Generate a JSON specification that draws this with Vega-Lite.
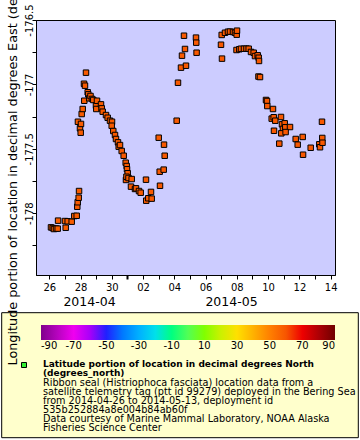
{
  "$schema": "https://vega.github.io/schema/vega-lite/v6.json",
  "width": 299,
  "height": 255,
  "autosize": "none",
  "padding": {"left": 36, "top": 20, "right": 25, "bottom": 165},
  "background": "white",
  "config": {
    "font": "DejaVu Sans",
    "view": {"fill": "#ccccff", "stroke": "black", "strokeWidth": 1},
    "axis": {"labelColor": "black", "tickColor": "black", "domainColor": "black", "titleColor": "black", "grid": false, "labelFont": "DejaVu Sans", "titleFont": "DejaVu Sans"},
    "legend": {"labelFont": "DejaVu Sans", "labelColor": "black"}
  },
  "title": {
    "text": ["Latitude portion of location in decimal degrees North", "(degrees_north)"],
    "subtitle": ["Ribbon seal (Histriophoca fasciata) location data from a", "satellite telemetry tag (ptt id 99279) deployed in the Bering Sea", "from 2014-04-26 to 2014-05-13, deployment id", "535b252884a8e004b84ab60f", "Data courtesy of Marine Mammal Laboratory, NOAA Alaska", "Fisheries Science Center"],
    "orient": "bottom",
    "anchor": "start",
    "frame": "group",
    "dx": 7,
    "offset": -81,
    "font": "DejaVu Sans",
    "fontSize": 9,
    "fontWeight": "bold",
    "lineHeight": 9,
    "color": "black",
    "subtitleFont": "DejaVu Sans",
    "subtitleFontSize": 9.7,
    "subtitleFontWeight": "normal",
    "subtitleLineHeight": 9,
    "subtitlePadding": 0,
    "subtitleColor": "black",
    "zindex": 2
  },
  "data": {
    "values": [
      {"t": "2014-04-26T02:37:00Z", "lon": -178.110, "lat": 58.6},
      {"t": "2014-04-26T05:13:00Z", "lon": -178.115, "lat": 58.6},
      {"t": "2014-04-26T07:13:00Z", "lon": -178.123, "lat": 58.6},
      {"t": "2014-04-26T10:17:00Z", "lon": -178.119, "lat": 58.6},
      {"t": "2014-04-26T12:54:00Z", "lon": -178.120, "lat": 58.6},
      {"t": "2014-04-26T13:30:00Z", "lon": -178.058, "lat": 58.7},
      {"t": "2014-04-27T00:06:00Z", "lon": -178.061, "lat": 58.7},
      {"t": "2014-04-27T01:11:00Z", "lon": -178.113, "lat": 58.7},
      {"t": "2014-04-27T04:15:00Z", "lon": -178.063, "lat": 58.7},
      {"t": "2014-04-27T10:24:00Z", "lon": -178.066, "lat": 58.7},
      {"t": "2014-04-27T14:23:00Z", "lon": -178.022, "lat": 58.8},
      {"t": "2014-04-27T18:04:00Z", "lon": -178.020, "lat": 58.8},
      {"t": "2014-04-27T18:59:00Z", "lon": -177.950, "lat": 58.8},
      {"t": "2014-04-27T19:37:00Z", "lon": -177.915, "lat": 58.8},
      {"t": "2014-04-27T21:08:00Z", "lon": -177.880, "lat": 58.8},
      {"t": "2014-04-27T21:40:00Z", "lon": -177.828, "lat": 58.8},
      {"t": "2014-04-27T20:00:00Z", "lon": -177.290, "lat": 58.9},
      {"t": "2014-04-27T23:08:00Z", "lon": -177.341, "lat": 58.9},
      {"t": "2014-04-28T00:13:00Z", "lon": -177.375, "lat": 58.9},
      {"t": "2014-04-28T00:40:00Z", "lon": -177.307, "lat": 58.9},
      {"t": "2014-04-28T01:45:00Z", "lon": -177.230, "lat": 58.9},
      {"t": "2014-04-28T03:17:00Z", "lon": -177.191, "lat": 58.9},
      {"t": "2014-04-28T05:17:00Z", "lon": -176.995, "lat": 59.0},
      {"t": "2014-04-28T05:44:00Z", "lon": -177.127, "lat": 59.0},
      {"t": "2014-04-28T06:49:00Z", "lon": -177.010, "lat": 59.0},
      {"t": "2014-04-28T08:21:00Z", "lon": -176.909, "lat": 59.0},
      {"t": "2014-04-28T10:58:00Z", "lon": -177.061, "lat": 59.0},
      {"t": "2014-04-28T11:53:00Z", "lon": -177.077, "lat": 59.0},
      {"t": "2014-04-28T13:25:00Z", "lon": -177.108, "lat": 59.0},
      {"t": "2014-04-28T15:16:00Z", "lon": -177.090, "lat": 59.0},
      {"t": "2014-04-28T17:34:00Z", "lon": -177.113, "lat": 59.0},
      {"t": "2014-04-28T19:34:00Z", "lon": -177.121, "lat": 59.0},
      {"t": "2014-04-28T23:43:00Z", "lon": -177.165, "lat": 59.1},
      {"t": "2014-04-29T00:10:00Z", "lon": -177.191, "lat": 59.1},
      {"t": "2014-04-29T01:15:00Z", "lon": -177.127, "lat": 59.1},
      {"t": "2014-04-29T07:23:00Z", "lon": -177.155, "lat": 59.1},
      {"t": "2014-04-29T08:28:00Z", "lon": -177.186, "lat": 59.1},
      {"t": "2014-04-29T10:00:00Z", "lon": -177.212, "lat": 59.1},
      {"t": "2014-04-29T15:04:00Z", "lon": -177.238, "lat": 59.1},
      {"t": "2014-04-29T17:40:00Z", "lon": -177.259, "lat": 59.1},
      {"t": "2014-04-29T21:12:00Z", "lon": -177.282, "lat": 59.1},
      {"t": "2014-04-30T00:17:00Z", "lon": -177.290, "lat": 59.1},
      {"t": "2014-04-29T23:49:00Z", "lon": -177.321, "lat": 59.1},
      {"t": "2014-04-30T02:16:00Z", "lon": -177.362, "lat": 59.1},
      {"t": "2014-04-30T04:53:00Z", "lon": -177.393, "lat": 59.1},
      {"t": "2014-04-30T06:25:00Z", "lon": -177.424, "lat": 59.1},
      {"t": "2014-04-30T09:29:00Z", "lon": -177.450, "lat": 59.1},
      {"t": "2014-04-30T10:34:00Z", "lon": -177.484, "lat": 59.1},
      {"t": "2014-04-30T12:34:00Z", "lon": -177.471, "lat": 59.1},
      {"t": "2014-04-30T15:10:00Z", "lon": -177.517, "lat": 59.1},
      {"t": "2014-04-30T18:14:00Z", "lon": -177.554, "lat": 59.1},
      {"t": "2014-04-30T21:19:00Z", "lon": -177.608, "lat": 59.1},
      {"t": "2014-04-30T22:51:00Z", "lon": -177.634, "lat": 59.1},
      {"t": "2014-04-30T23:20:00Z", "lon": -177.659, "lat": 59.1},
      {"t": "2014-05-01T00:23:00Z", "lon": -177.690, "lat": 59.1},
      {"t": "2014-04-30T21:46:00Z", "lon": -177.742, "lat": 59.1},
      {"t": "2014-04-30T22:30:00Z", "lon": -177.717, "lat": 59.1},
      {"t": "2014-05-01T01:36:00Z", "lon": -177.727, "lat": 59.1},
      {"t": "2014-05-01T06:32:00Z", "lon": -177.735, "lat": 59.1},
      {"t": "2014-05-01T05:27:00Z", "lon": -177.794, "lat": 59.1},
      {"t": "2014-05-01T11:35:00Z", "lon": -177.812, "lat": 59.1},
      {"t": "2014-05-01T13:08:00Z", "lon": -177.807, "lat": 59.1},
      {"t": "2014-05-01T17:44:00Z", "lon": -177.828, "lat": 59.1},
      {"t": "2014-05-01T20:20:00Z", "lon": -177.841, "lat": 59.1},
      {"t": "2014-05-02T04:29:00Z", "lon": -177.740, "lat": 59.2},
      {"t": "2014-05-02T04:50:00Z", "lon": -177.903, "lat": 59.2},
      {"t": "2014-05-02T08:01:00Z", "lon": -177.884, "lat": 59.2},
      {"t": "2014-05-02T12:10:00Z", "lon": -177.835, "lat": 59.2},
      {"t": "2014-05-02T13:14:00Z", "lon": -177.887, "lat": 59.2},
      {"t": "2014-05-02T23:59:00Z", "lon": -177.414, "lat": 59.2},
      {"t": "2014-05-03T01:31:00Z", "lon": -177.678, "lat": 59.2},
      {"t": "2014-05-03T02:00:00Z", "lon": -177.787, "lat": 59.2},
      {"t": "2014-05-03T07:40:00Z", "lon": -177.662, "lat": 59.2},
      {"t": "2014-05-03T08:10:00Z", "lon": -177.468, "lat": 59.2},
      {"t": "2014-05-03T09:12:00Z", "lon": -177.554, "lat": 59.2},
      {"t": "2014-05-04T03:37:00Z", "lon": -177.282, "lat": 59.3},
      {"t": "2014-05-04T05:37:00Z", "lon": -176.987, "lat": 59.3},
      {"t": "2014-05-04T10:14:00Z", "lon": -176.870, "lat": 59.3},
      {"t": "2014-05-04T11:46:00Z", "lon": -176.777, "lat": 59.3},
      {"t": "2014-05-04T14:50:00Z", "lon": -176.622, "lat": 59.3},
      {"t": "2014-05-04T16:22:00Z", "lon": -176.725, "lat": 59.3},
      {"t": "2014-05-04T17:54:00Z", "lon": -176.855, "lat": 59.3},
      {"t": "2014-05-05T09:16:00Z", "lon": -176.637, "lat": 59.3},
      {"t": "2014-05-05T09:40:00Z", "lon": -176.676, "lat": 59.3},
      {"t": "2014-05-05T10:10:00Z", "lon": -176.754, "lat": 59.3},
      {"t": "2014-05-06T23:39:00Z", "lon": -176.692, "lat": 59.4},
      {"t": "2014-05-07T01:11:00Z", "lon": -176.800, "lat": 59.4},
      {"t": "2014-05-07T00:43:00Z", "lon": -176.616, "lat": 59.4},
      {"t": "2014-05-07T05:47:00Z", "lon": -176.599, "lat": 59.4},
      {"t": "2014-05-07T10:23:00Z", "lon": -176.591, "lat": 59.4},
      {"t": "2014-05-07T13:28:00Z", "lon": -176.590, "lat": 59.4},
      {"t": "2014-05-07T18:04:00Z", "lon": -176.593, "lat": 59.4},
      {"t": "2014-05-07T21:08:00Z", "lon": -176.599, "lat": 59.4},
      {"t": "2014-05-07T23:45:00Z", "lon": -176.614, "lat": 59.4},
      {"t": "2014-05-08T00:13:00Z", "lon": -176.583, "lat": 59.4},
      {"t": "2014-05-07T23:30:00Z", "lon": -176.733, "lat": 59.4},
      {"t": "2014-05-08T03:44:00Z", "lon": -176.727, "lat": 59.4},
      {"t": "2014-05-08T06:21:00Z", "lon": -176.723, "lat": 59.4},
      {"t": "2014-05-08T10:58:00Z", "lon": -176.723, "lat": 59.4},
      {"t": "2014-05-08T14:48:00Z", "lon": -176.722, "lat": 59.4},
      {"t": "2014-05-08T18:11:00Z", "lon": -176.723, "lat": 59.4},
      {"t": "2014-05-08T21:43:00Z", "lon": -176.748, "lat": 59.4},
      {"t": "2014-05-09T01:52:00Z", "lon": -176.754, "lat": 59.4},
      {"t": "2014-05-09T03:51:00Z", "lon": -176.780, "lat": 59.4},
      {"t": "2014-05-09T08:00:00Z", "lon": -176.774, "lat": 59.4},
      {"t": "2014-05-09T09:32:00Z", "lon": -176.793, "lat": 59.4},
      {"t": "2014-05-09T10:00:00Z", "lon": -176.818, "lat": 59.4},
      {"t": "2014-05-09T09:12:00Z", "lon": -176.939, "lat": 59.4},
      {"t": "2014-05-09T11:32:00Z", "lon": -176.943, "lat": 59.4},
      {"t": "2014-05-09T20:44:00Z", "lon": -177.121, "lat": 59.4},
      {"t": "2014-05-09T22:17:00Z", "lon": -177.129, "lat": 59.4},
      {"t": "2014-05-09T22:45:00Z", "lon": -177.168, "lat": 59.4},
      {"t": "2014-05-10T07:29:00Z", "lon": -177.191, "lat": 59.4},
      {"t": "2014-05-10T05:30:00Z", "lon": -177.266, "lat": 59.4},
      {"t": "2014-05-10T08:34:00Z", "lon": -177.255, "lat": 59.4},
      {"t": "2014-05-10T11:01:00Z", "lon": -177.282, "lat": 59.4},
      {"t": "2014-05-10T09:02:00Z", "lon": -177.360, "lat": 59.4},
      {"t": "2014-05-10T19:47:00Z", "lon": -177.253, "lat": 59.4},
      {"t": "2014-05-10T21:19:00Z", "lon": -177.310, "lat": 59.4},
      {"t": "2014-05-10T22:48:00Z", "lon": -177.346, "lat": 59.4},
      {"t": "2014-05-11T01:28:00Z", "lon": -177.302, "lat": 59.4},
      {"t": "2014-05-11T02:23:00Z", "lon": -177.333, "lat": 59.4},
      {"t": "2014-05-11T09:36:00Z", "lon": -177.331, "lat": 59.4},
      {"t": "2014-05-10T20:15:00Z", "lon": -177.380, "lat": 59.4},
      {"t": "2014-05-11T02:50:00Z", "lon": -177.370, "lat": 59.4},
      {"t": "2014-05-10T17:10:00Z", "lon": -177.460, "lat": 59.4},
      {"t": "2014-05-11T18:21:00Z", "lon": -177.424, "lat": 59.4},
      {"t": "2014-05-11T21:25:00Z", "lon": -177.468, "lat": 59.4},
      {"t": "2014-05-12T05:06:00Z", "lon": -177.408, "lat": 59.4},
      {"t": "2014-05-12T05:40:00Z", "lon": -177.546, "lat": 59.4},
      {"t": "2014-05-12T17:23:00Z", "lon": -177.492, "lat": 59.4},
      {"t": "2014-05-13T06:35:00Z", "lon": -177.465, "lat": 59.4},
      {"t": "2014-05-13T07:40:00Z", "lon": -177.488, "lat": 59.4},
      {"t": "2014-05-13T10:44:00Z", "lon": -177.290, "lat": 59.4},
      {"t": "2014-05-13T11:10:00Z", "lon": -177.416, "lat": 59.4},
      {"t": "2014-05-13T11:30:00Z", "lon": -177.453, "lat": 59.4}
    ]
  },
  "layer": [
    {
      "mark": {"type": "point", "shape": "square", "filled": true, "size": 30, "stroke": "black", "strokeWidth": 1, "opacity": 1},
      "encoding": {
        "x": {
          "field": "t", "type": "temporal",
          "scale": {"type": "utc", "domain": [{"year": 2014, "month": 4, "date": 25, "hours": 3, "minutes": 35, "utc": true}, {"year": 2014, "month": 5, "date": 14, "hours": 6, "minutes": 42, "utc": true}]},
          "axis": {
            "title": null,
            "orient": "bottom",
            "values": [
              {"year": 2014, "month": 4, "date": 26, "utc": true}, {"year": 2014, "month": 4, "date": 27, "utc": true},
              {"year": 2014, "month": 4, "date": 28, "utc": true}, {"year": 2014, "month": 4, "date": 29, "utc": true},
              {"year": 2014, "month": 4, "date": 30, "utc": true}, {"year": 2014, "month": 5, "date": 1, "utc": true},
              {"year": 2014, "month": 5, "date": 2, "utc": true}, {"year": 2014, "month": 5, "date": 3, "utc": true},
              {"year": 2014, "month": 5, "date": 4, "utc": true}, {"year": 2014, "month": 5, "date": 5, "utc": true},
              {"year": 2014, "month": 5, "date": 6, "utc": true}, {"year": 2014, "month": 5, "date": 7, "utc": true},
              {"year": 2014, "month": 5, "date": 8, "utc": true}, {"year": 2014, "month": 5, "date": 9, "utc": true},
              {"year": 2014, "month": 5, "date": 10, "utc": true}, {"year": 2014, "month": 5, "date": 11, "utc": true},
              {"year": 2014, "month": 5, "date": 12, "utc": true}, {"year": 2014, "month": 5, "date": 13, "utc": true},
              {"year": 2014, "month": 5, "date": 14, "utc": true}
            ],
            "labelExpr": "utcdate(datum.value) % 2 == 0 ? utcFormat(datum.value, '%d') : ''",
            "labelFontSize": 10,
            "labelPadding": 3,
            "labelFlush": false,
            "labelOverlap": false,
            "tickSize": 4,
            "tickWidth": {"condition": {"test": "utcdate(datum.value) == 1", "value": 2}, "value": 1},
            "domain": true
          }
        },
        "y": {
          "field": "lon", "type": "quantitative",
          "scale": {"domain": [-178.48, -176.5], "nice": false, "zero": false},
          "axis": {
            "orient": "left",
            "values": [-176.5, -176.75, -177, -177.25, -177.5, -177.75, -178, -178.25],
            "labelExpr": "datum.value * 2 == round(datum.value * 2) ? '' + datum.value : ''",
            "labelAngle": 270,
            "labelAlign": "center",
            "labelBaseline": "alphabetic",
            "labelPadding": 0,
            "labelFontSize": 10,
            "labelFlush": false,
            "labelOverlap": false,
            "labelBound": false,
            "tickSize": 4,
            "title": "Longitude portion of location in decimal degrees East (degrees_east)",
            "titleFontSize": 12.8,
            "titleFontWeight": "normal",
            "titleAngle": 270,
            "titleAlign": "left",
            "titleBaseline": "alphabetic",
            "titleX": -20,
            "titleY": 345,
            "titleLimit": 1000,
            "zindex": 3
          }
        },
        "fill": {
          "field": "lat", "type": "quantitative",
          "scale": {"domain": [-90, -70, -50, -30, -10, 10, 30, 50, 70, 90], "range": ["#80008c", "#f000f0", "#2020ff", "#00b0ff", "#00ff80", "#80ff00", "#ffe000", "#ff8000", "#ee0000", "#700000"]},
          "legend": {
            "type": "gradient", "orient": "none", "legendX": 5, "legendY": 305, "direction": "horizontal",
            "gradientLength": 294, "gradientThickness": 15, "gradientStrokeWidth": 0,
            "title": null, "values": [-90, -70, -50, -30, -10, 10, 30, 50, 70, 90],
            "labelExpr": "'' + datum.value",
            "labelAlign": "center",
            "labelFontSize": 10, "labelOffset": 1, "labelFlush": false, "labelOverlap": false,
            "padding": 0, "zindex": 1
          }
        },
        "shape": {
          "datum": "latitude", "type": "nominal",
          "scale": {"range": ["square"]},
          "legend": {
            "orient": "none", "legendX": -17, "legendY": 340, "title": null, "labelExpr": "''",
            "symbolType": "square", "symbolSize": 25, "symbolStrokeWidth": 1, "symbolStrokeColor": "black", "symbolFillColor": "#33ee33",
            "padding": 0, "zindex": 1,
            "encode": {"symbols": {"update": {"fill": {"value": "#33ee33"}, "stroke": {"value": "black"}, "strokeWidth": {"value": 1}, "opacity": {"value": 1}}}}
          }
        }
      }
    },
    {
      "mark": {"type": "point", "fillOpacity": 0, "strokeOpacity": 0},
      "encoding": {
        "x": {
          "field": "t", "type": "temporal",
          "scale": {"type": "utc", "domain": [{"year": 2014, "month": 4, "date": 25, "hours": 3, "minutes": 35, "utc": true}, {"year": 2014, "month": 5, "date": 14, "hours": 6, "minutes": 42, "utc": true}]},
          "axis": {
            "title": null,
            "orient": "bottom",
            "values": [{"year": 2014, "month": 4, "date": 28, "hours": 13, "utc": true}, {"year": 2014, "month": 5, "date": 7, "hours": 15, "utc": true}],
            "labelExpr": "utcFormat(datum.value, '%Y-%m')",
            "ticks": false,
            "domain": false,
            "labelFontSize": 12.5,
            "labelPadding": 20,
            "labelFlush": false,
            "labelOverlap": false
          }
        },
        "stroke": {
          "field": "lon", "type": "quantitative",
          "scale": {"range": ["#ffffcc", "#ffffcc"]},
          "legend": {
            "type": "gradient", "orient": "none", "legendX": -34.3, "legendY": 292.7, "direction": "horizontal",
            "gradientLength": 356.6, "gradientThickness": 125, "gradientStrokeColor": "black", "gradientStrokeWidth": 1,
            "title": null, "labels": false, "labelExpr": "''", "labelFontSize": 1, "labelOpacity": 0, "padding": 0, "zindex": 0
          }
        }
      }
    }
  ],
  "resolve": {"axis": {"x": "independent"}}
}
